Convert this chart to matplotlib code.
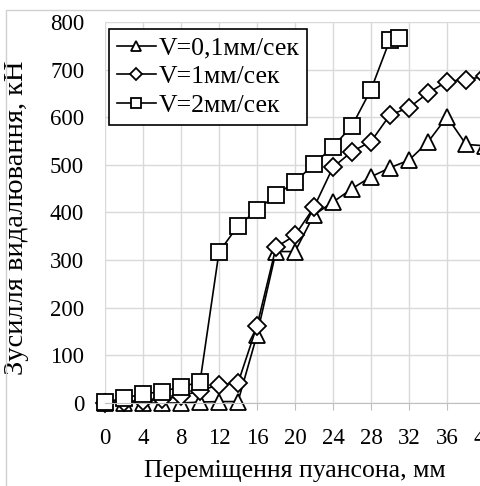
import matplotlib
matplotlib.use("Agg")
import matplotlib.pyplot as plt
from matplotlib.patches import Rectangle

plt.rcParams['font.family'] = ['Liberation Serif', 'DejaVu Serif']

# переміщення, мм
x_tri = [0, 2, 4, 6, 8, 10, 12, 14, 16, 18, 20, 22, 24, 26, 28, 30, 32, 34, 36, 38, 40]
y_tri = [0, 0, 0, 0, 0, 2, 3, 3, 143, 318, 318, 395, 422, 450, 475, 494, 510, 548, 601, 543, 540]

x_dia = [0, 2, 4, 6, 8, 10, 12, 14, 16, 18, 20, 22, 24, 26, 28, 30, 32, 34, 36, 38, 40]
y_dia = [0, 2, 5, 8, 14, 26, 38, 42, 162, 327, 352, 411, 495, 528, 549, 605, 620, 651, 675, 679, 686]

x_sq = [0, 2, 4, 6, 8, 10, 12, 14, 16, 18, 20, 22, 24, 26, 28, 30, 31]
y_sq = [2, 10, 19, 24, 34, 44, 317, 372, 405, 437, 464, 502, 538, 582, 658, 763, 767]

labels = ['V=0,1мм/сек', 'V=1мм/сек', 'V=2мм/сек']
xticks = [0, 4, 8, 12, 16, 20, 24, 28, 32, 36, 40]
yticks = [0, 100, 200, 300, 400, 500, 600, 700, 800]

fig = plt.figure(figsize=(4.81, 4.86), dpi=100)
W, H = 481, 486
fig.patches.append(Rectangle((6 / W, -0.1), 1.2, (H - 10) / H + 0.1, transform=fig.transFigure,
                             fill=False, edgecolor='#d0d0d0', lw=1))
ax = fig.add_axes([105 / W, 83 / H, 380 / W, 381 / H])

style = dict(color='black', lw=1.2, markerfacecolor='white', markeredgecolor='black', markeredgewidth=1.3)
ax.plot(x_tri, y_tri, marker='^', markersize=11, label=labels[0], clip_on=False, **style)
ax.plot(x_dia, y_dia, marker='D', markersize=9, label=labels[1], clip_on=False, **style)
ax.plot(x_sq, y_sq, marker='s', markersize=11, label=labels[2], clip_on=False, **style)

ax.set_xlim(0, 40)
ax.set_ylim(0, 800)
ax.set_xticks(xticks)
ax.set_yticks(yticks)
ax.grid(True, color='#d9d9d9', lw=1)
ax.set_axisbelow(True)
for s in ['top', 'right', 'left']:
    ax.spines[s].set_visible(False)
ax.spines['bottom'].set_color('#bfbfbf')
ax.tick_params(axis='x', labelsize=16.5, length=5, pad=13, color='#bfbfbf')
ax.tick_params(axis='y', labelsize=16.5, length=0, pad=15)

ax.set_xlabel('Переміщення пуансона, мм', fontsize=18.5)
ax.set_ylabel('Зусилля видалювання, кН', fontsize=20.5)
ax.xaxis.set_label_coords(0.5, -0.15)
ax.yaxis.set_label_coords(-0.2, 0.485)

leg = ax.legend(loc='upper left', bbox_to_anchor=(0.01, 0.982), borderaxespad=0,
                fontsize=18.5, fancybox=False, edgecolor='black', framealpha=1,
                markerscale=0.7, handlelength=1.55, handletextpad=0.1,
                labelspacing=0.22, borderpad=0.3)
leg.get_frame().set_linewidth(1.2)

fig.savefig('out.png', dpi=100)
